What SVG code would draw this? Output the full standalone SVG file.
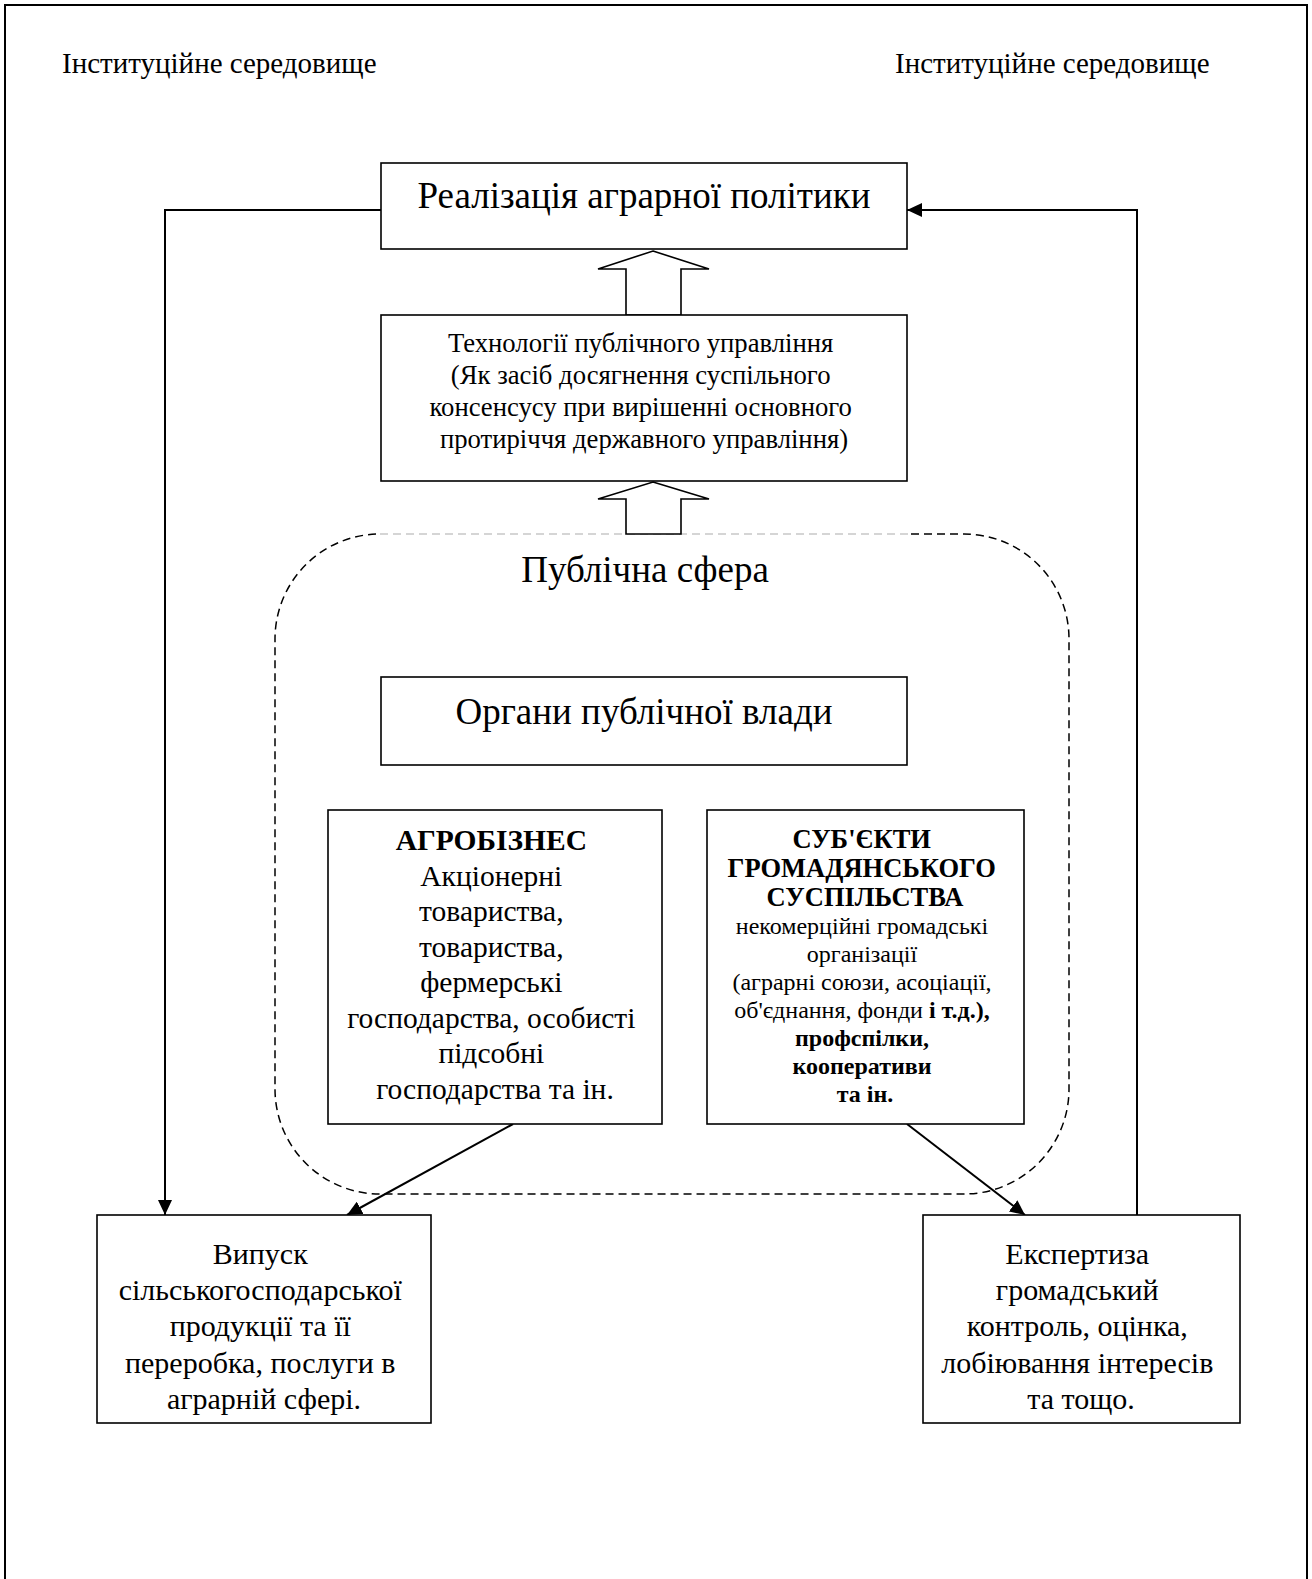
<svg xmlns="http://www.w3.org/2000/svg" width="1312" height="1579" viewBox="0 0 1312 1579">
  <style>
    .t { font-family: "Liberation Serif", "Times New Roman", serif; fill: #000; text-anchor: middle; }
    .l { font-family: "Liberation Serif", "Times New Roman", serif; fill: #000; }
    .box { fill: #fff; stroke: #000; stroke-width: 1.6; }
    .hollow { fill: #fff; stroke: #000; stroke-width: 1.6; stroke-linejoin: miter; }
    .conn { fill: none; stroke: #000; stroke-width: 2; }
    .dash { fill: none; stroke: #000; stroke-width: 1.5; stroke-dasharray: 8 5; }
    .b { font-weight: bold; }
  </style>
  <defs>
    <marker id="arr" viewBox="0 0 15 14" refX="15" refY="7" markerWidth="15" markerHeight="14" markerUnits="userSpaceOnUse" orient="auto">
      <path d="M0,0 L15,7 L0,14 Z" fill="#000"/>
    </marker>
  </defs>

  <rect width="1312" height="1579" fill="#fff"/>
  <!-- page frame (open at the bottom edge) -->
  <path d="M5,1590 L5,5 L1307,5 L1307,1590" fill="none" stroke="#000" stroke-width="2"/>

  <text class="l" x="62" y="72.5" font-size="29">Інституційне середовище</text>
  <text class="l" x="895" y="72.5" font-size="29">Інституційне середовище</text>

  <!-- public sphere boundary -->
  <g id="public-sphere">
    <path class="dash" d="M911,534 L964,534 A105,105 0 0 1 1069,639 L1069,1089 A105,105 0 0 1 964,1194 L380,1194 A105,105 0 0 1 275,1089 L275,639 A105,105 0 0 1 380,534"/>
    <line x1="380" y1="534" x2="911" y2="534" stroke="#c8c8c8" stroke-width="1.5" stroke-dasharray="8 5"/>
    <text class="t" x="645" y="582" font-size="37">Публічна сфера</text>
  </g>

  <g id="connectors">
    <polyline class="conn" points="381,210 165,210 165,1215" marker-end="url(#arr)"/>
    <polyline class="conn" points="1137,1215 1137,210 907,210" marker-end="url(#arr)"/>
    <line class="conn" x1="513" y1="1124" x2="347" y2="1215" marker-end="url(#arr)"/>
    <line class="conn" x1="907" y1="1124" x2="1025" y2="1215" marker-end="url(#arr)"/>
    <polygon class="hollow" points="653,251 709,269 681,269 681,315 626,315 626,269 598,269"/>
    <polygon class="hollow" points="653,482 709,499 681,499 681,534 626,534 626,499 598,499"/>
  </g>

  <g id="policy">
    <rect class="box" x="381" y="163" width="526" height="86"/>
    <text class="t" x="644" y="208" font-size="37">Реалізація аграрної політики</text>
  </g>

  <g id="technologies">
    <rect class="box" x="381" y="315" width="526" height="166"/>
    <text class="t" font-size="26.7">
      <tspan x="644" y="352">Технології публічного управління</tspan>
      <tspan x="644" y="384">(Як засіб досягнення суспільного</tspan>
      <tspan x="644" y="416">консенсусу при вирішенні основного</tspan>
      <tspan x="644" y="448">протиріччя державного управління)</tspan>
    </text>
  </g>

  <g id="authorities">
    <rect class="box" x="381" y="677" width="526" height="88"/>
    <text class="t" x="644" y="724" font-size="37">Органи публічної влади</text>
  </g>

  <g id="agribusiness">
    <rect class="box" x="328" y="810" width="334" height="314"/>
    <text class="t" font-size="29.5">
      <tspan x="495" y="850" class="b">АГРОБІЗНЕС</tspan>
      <tspan x="495" y="886">Акціонерні</tspan>
      <tspan x="495" y="921">товариства,</tspan>
      <tspan x="495" y="957">товариства,</tspan>
      <tspan x="495" y="992">фермерські</tspan>
      <tspan x="495" y="1028">господарства, особисті</tspan>
      <tspan x="495" y="1063">підсобні</tspan>
      <tspan x="495" y="1099">господарства та ін.</tspan>
    </text>
  </g>

  <g id="civil-society">
    <rect class="box" x="707" y="810" width="317" height="314"/>
    <text class="t b" font-size="26.5">
      <tspan x="865" y="848">СУБ'ЄКТИ</tspan>
      <tspan x="865" y="877">ГРОМАДЯНСЬКОГО</tspan>
      <tspan x="865" y="906">СУСПІЛЬСТВА</tspan>
    </text>
    <text class="t" font-size="24">
      <tspan x="865" y="934">некомерційні громадські</tspan>
      <tspan x="865" y="962">організації</tspan>
      <tspan x="865" y="990">(аграрні союзи, асоціації,</tspan>
      <tspan x="865" y="1018">об'єднання, фонди <tspan class="b">і т.д.),</tspan></tspan>
      <tspan x="865" y="1046" class="b">профспілки,</tspan>
      <tspan x="865" y="1074" class="b">кооперативи</tspan>
      <tspan x="865" y="1102" class="b">та ін.</tspan>
    </text>
  </g>

  <g id="production">
    <rect class="box" x="97" y="1215" width="334" height="208"/>
    <text class="t" font-size="30">
      <tspan x="264" y="1264">Випуск</tspan>
      <tspan x="264" y="1300">сільськогосподарської</tspan>
      <tspan x="264" y="1336">продукції та її</tspan>
      <tspan x="264" y="1373">переробка, послуги в</tspan>
      <tspan x="264" y="1409">аграрній сфері.</tspan>
    </text>
  </g>

  <g id="expertise">
    <rect class="box" x="923" y="1215" width="317" height="208"/>
    <text class="t" font-size="30">
      <tspan x="1081" y="1264">Експертиза</tspan>
      <tspan x="1081" y="1300">громадський</tspan>
      <tspan x="1081" y="1336">контроль, оцінка,</tspan>
      <tspan x="1081" y="1373">лобіювання інтересів</tspan>
      <tspan x="1081" y="1409">та тощо.</tspan>
    </text>
  </g>
</svg>
